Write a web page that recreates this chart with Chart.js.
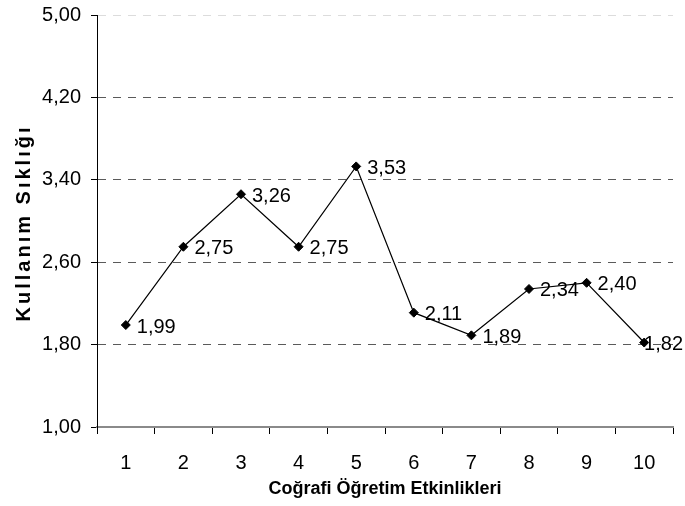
<!DOCTYPE html>
<html>
<head>
<meta charset="utf-8">
<script src="https://cdn.jsdelivr.net/npm/chart.js@4"></script>
<style>
  html, body { margin: 0; padding: 0; background: #fff; }
  canvas { display: block; }
</style>
</head>
<body>
<canvas id="lineChart" width="685" height="506"></canvas>
<script>
// chart data
const categories = ['1', '2', '3', '4', '5', '6', '7', '8', '9', '10'];
const values = [1.99, 2.75, 3.26, 2.75, 3.53, 2.11, 1.89, 2.34, 2.40, 1.82];
const yTicks = [1.00, 1.80, 2.60, 3.40, 4.20, 5.00];
const xTitle = 'Coğrafi Öğretim Etkinlikleri';
const yTitle = 'Kullanım Sıklığı';

const tickFont = "'Liberation Sans', Arial, sans-serif";
const titleFont = "'Liberation Sans', Arial, sans-serif";

function fmt(v) {
  return v.toFixed(2).replace('.', ',');
}

// value labels to the right of each point, kept inside the canvas
const pointLabels = {
  id: 'pointLabels',
  afterDatasetsDraw(chart) {
    const ctx = chart.ctx;
    const meta = chart.getDatasetMeta(0);
    ctx.save();
    ctx.font = '20px ' + tickFont;
    ctx.fillStyle = '#000';
    ctx.textAlign = 'left';
    ctx.textBaseline = 'middle';
    meta.data.forEach((pt, i) => {
      const txt = fmt(values[i]);
      const w = ctx.measureText(txt).width;
      const x = Math.min(pt.x + 11, chart.width - w - 2);
      ctx.fillText(txt, x, pt.y + 2);
    });
    ctx.restore();
  }
};

// y title drawn by hand, the original has wide letter spacing
const yTitlePlugin = {
  id: 'yTitle',
  afterDraw(chart) {
    const ctx = chart.ctx;
    const area = chart.chartArea;
    ctx.save();
    ctx.translate(24, (area.top + area.bottom) / 2 + 2);
    ctx.rotate(-Math.PI / 2);
    ctx.font = 'bold 20px ' + titleFont;
    if ('letterSpacing' in ctx) ctx.letterSpacing = '3px';
    ctx.fillStyle = '#000';
    ctx.textAlign = 'center';
    ctx.textBaseline = 'middle';
    ctx.fillText(yTitle, 0, 0);
    ctx.restore();
  }
};

const ctx = document.getElementById('lineChart').getContext('2d');

new Chart(ctx, {
  type: 'line',
  data: {
    labels: categories,
    datasets: [{
      data: values,
      borderColor: '#000',
      borderWidth: 1.2,
      backgroundColor: '#000',
      pointStyle: 'rectRot',
      pointRadius: 4.5,
      pointBorderWidth: 1,
      pointBorderColor: '#000',
      pointBackgroundColor: '#000',
      tension: 0,
      fill: false
    }]
  },
  options: {
    responsive: false,
    animation: false,
    devicePixelRatio: 1,
    layout: {
      padding: { top: 15, right: 12, left: 0, bottom: 0 }
    },
    plugins: {
      legend: { display: false },
      tooltip: { enabled: false }
    },
    scales: {
      x: {
        offset: true,
        afterFit: (s) => { s.height = 79; s.paddingLeft = 0; s.paddingRight = 0; },
        grid: {
          offset: true,
          drawOnChartArea: false,
          drawTicks: true,
          tickLength: 7,
          tickColor: '#000',
          tickWidth: 1
        },
        border: { color: '#8a8a8a', width: 2 },
        ticks: {
          padding: 17,
          color: '#000',
          font: { family: tickFont, size: 20 },
          maxRotation: 0
        },
        title: {
          display: true,
          text: xTitle,
          color: '#000',
          font: { family: titleFont, size: 18, weight: 'bold' },
          padding: { top: 0, bottom: 6 }
        }
      },
      y: {
        min: 1,
        max: 5,
        afterFit: (s) => { s.width = 97; s.paddingTop = 0; s.paddingBottom = 0; },
        afterBuildTicks: (s) => { s.ticks = yTicks.map(v => ({ value: v })); },
        grid: {
          color: (c) => {
            if (!c.tick) return '#5a5a5a';
            if (c.tick.value === 1) return 'rgba(0,0,0,0)';
            if (c.tick.value === 5) return '#dcdcdc';
            return '#5a5a5a';
          },
          lineWidth: 1,
          tickLength: 6,
          tickColor: '#000',
          tickWidth: 1,
          tickBorderDash: []
        },
        border: { color: '#000', width: 1, dash: [8, 7] },
        ticks: {
          padding: 10,
          color: '#000',
          font: { family: tickFont, size: 20 },
          callback: (v) => fmt(v)
        }
      }
    }
  },
  plugins: [pointLabels, yTitlePlugin]
});
</script>
</body>
</html>
